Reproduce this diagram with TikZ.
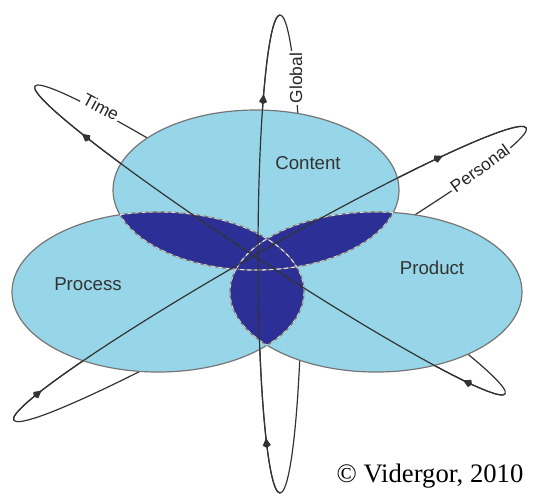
\documentclass[tikz,border=0pt]{standalone}
\usepackage{fontspec}
\setmainfont{Liberation Serif}
\setsansfont{Liberation Sans}
\usetikzlibrary{arrows.meta,decorations.markings}
\definecolor{skyfill}{RGB}{150,214,232}
\definecolor{deepfill}{RGB}{44,48,150}
\definecolor{rimgray}{RGB}{118,118,118}
\tikzset{
  orbit/.style={draw=black!80,line width=0.9pt},
  blob/.style={fill=skyfill,draw=rimgray,line width=0.9pt},
  seam/.style={draw=white!75!gray,line width=0.6pt,dash pattern=on 3pt off 2.5pt},
  flow/.style 2 args={postaction={decorate,decoration={markings,
    mark=at position #1 with {\arrow{Kite[length=7.5pt,width=6pt]}},
    mark=at position #2 with {\arrow{Kite[length=7.5pt,width=6pt]}}}}},
  tag/.style={font=\sffamily\fontsize{13}{13}\selectfont,fill=white,inner sep=1.5pt,text=black!85},
  area/.style={font=\sffamily\fontsize{14}{14}\selectfont,text=black!80}
}
\begin{document}
\begin{tikzpicture}[x=0.75pt,y=-0.75pt]
\useasboundingbox (0,0) rectangle (539,494);
\coordinate (content) at (256,190);
\coordinate (process) at (158,292);
\coordinate (product) at (376,292);
% whole orbits first, the back halves get hidden by the ellipses
\begin{scope}[shift={(270,240)},rotate=-33.2]
\draw[orbit] (0,0) ellipse [x radius=281,y radius=22];
\end{scope}
\begin{scope}[shift={(270,274)},rotate=29.7]
\draw[orbit] (0,0) ellipse [x radius=295,y radius=24];
\end{scope}
\draw[orbit] (280,254) ellipse [x radius=22,y radius=239];
\node[tag,rotate=-28] (time) at (101,107) {Time};
\node[tag,rotate=90] (global) at (296,78) {Global};
\node[tag,rotate=36] (personal) at (480,168) {Personal};
% the three areas
\fill[skyfill] (content) ellipse [x radius=143,y radius=80];
\fill[skyfill] (process) ellipse [x radius=146,y radius=80];
\fill[skyfill] (product) ellipse [x radius=146,y radius=80];
\begin{scope}
\clip (content) ellipse [x radius=143,y radius=80];
\fill[deepfill] (process) ellipse [x radius=146,y radius=80];
\fill[deepfill] (product) ellipse [x radius=146,y radius=80];
\end{scope}
\begin{scope}
\clip (process) ellipse [x radius=146,y radius=80];
\fill[deepfill] (product) ellipse [x radius=146,y radius=80];
\end{scope}
\draw[blob,fill=none] (content) ellipse [x radius=143,y radius=80];
\draw[blob,fill=none] (process) ellipse [x radius=146,y radius=80];
\draw[blob,fill=none] (product) ellipse [x radius=146,y radius=80];
\begin{scope}
\clip (content) ellipse [x radius=143,y radius=80];
\draw[seam] (process) ellipse [x radius=146,y radius=80];
\draw[seam] (product) ellipse [x radius=146,y radius=80];
\end{scope}
\begin{scope}
\clip (process) ellipse [x radius=146,y radius=80];
\draw[seam] (content) ellipse [x radius=143,y radius=80];
\draw[seam] (product) ellipse [x radius=146,y radius=80];
\end{scope}
\begin{scope}
\clip (product) ellipse [x radius=146,y radius=80];
\draw[seam] (content) ellipse [x radius=143,y radius=80];
\draw[seam] (process) ellipse [x radius=146,y radius=80];
\end{scope}
% front halves of the orbits
\begin{scope}[shift={(270,240)},rotate=-33.2]
\draw[orbit,flow={0.08}{0.88}] (281,0) arc [start angle=0,end angle=180,x radius=281,y radius=22];
\end{scope}
\begin{scope}[shift={(270,274)},rotate=29.7]
\draw[orbit,flow={0.07}{0.85}] (-295,0) arc [start angle=180,end angle=360,x radius=295,y radius=24];
\end{scope}
\draw[orbit,flow={0.12}{0.83}] (280,493) arc [start angle=90,end angle=270,x radius=22,y radius=239];
\node[area] (contentlbl) at (308,163) {Content};
\node[area] (processlbl) at (88,284) {Process};
\node[area] (productlbl) at (432,268) {Product};
\node[font=\fontsize{20}{20}\selectfont] (credit) at (430,476) {© Vidergor, 2010};
\end{tikzpicture}
\end{document}
